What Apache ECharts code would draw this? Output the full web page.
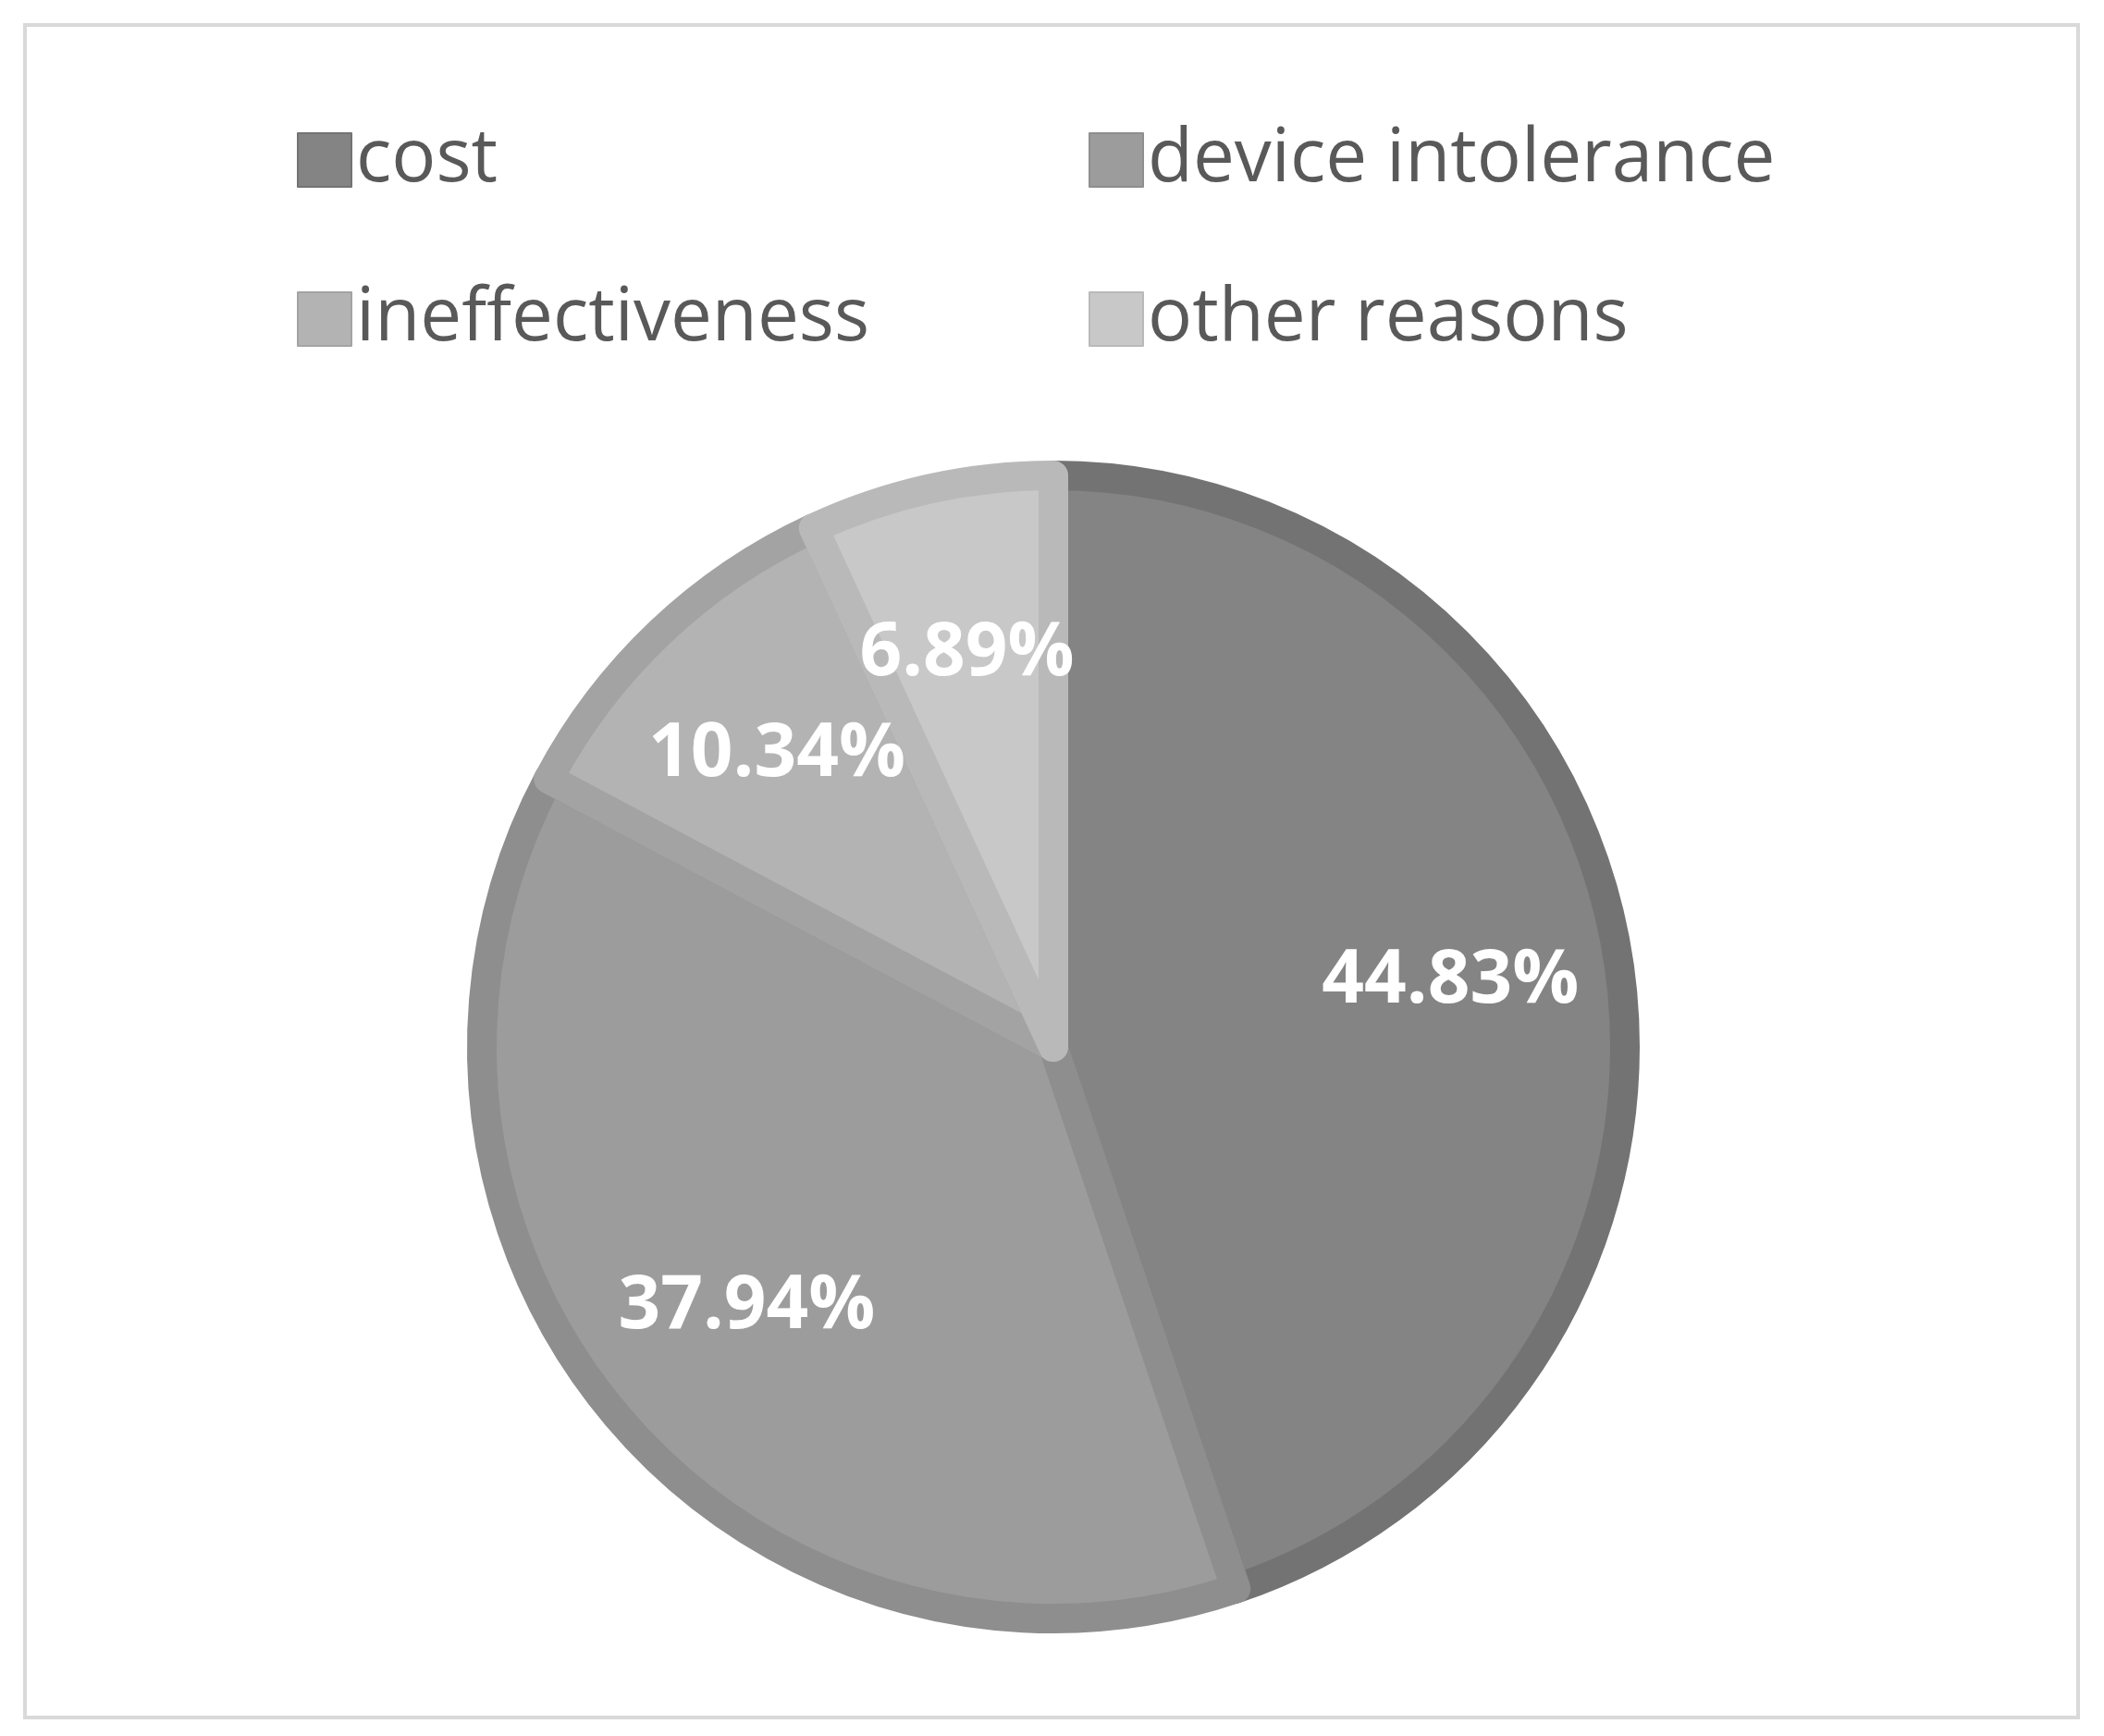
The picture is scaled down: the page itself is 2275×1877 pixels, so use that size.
<!DOCTYPE html>
<html><head><meta charset="utf-8">
<script src="https://cdn.jsdelivr.net/npm/echarts@6/dist/echarts.min.js"></script>
<style>html,body{margin:0;padding:0;background:#fff}#c{width:2275px;height:1877px}</style>
</head><body><div id="c"></div>
<script>
const categories = ['cost', 'device intolerance', 'ineffectiveness', 'other reasons'];
const values = [44.83, 37.94, 10.34, 6.89];
const fills = ['#848484', '#9c9c9c', '#b3b3b3', '#c8c8c8'];
const borders = ['#737373', '#8e8e8e', '#a3a3a3', '#b9b9b9'];
const legendColors = ['#757575', '#8b8b8b', '#a2a2a2', '#c0c0c0'];
const legendPos = [[316, 128], [1172, 128], [316, 300], [1172, 300]];

const chart = echarts.init(document.getElementById('c'));
const data = categories.map((n, i) => ({
  name: n, value: values[i],
  itemStyle: { color: fills[i], borderColor: borders[i], borderWidth: 32 }
}));
const labelData = categories.map((n, i) => ({ name: n, value: values[i] }));
chart.setOption({
  animation: false,
  color: legendColors,
  graphic: [{ type: 'rect', shape: { x: 27, y: 27, width: 2220, height: 1830 },
    style: { fill: 'none', stroke: '#d9d9d9', lineWidth: 4 } }],
  legend: categories.map((n, i) => ({
    data: [n], left: legendPos[i][0], top: legendPos[i][1],
    icon: 'rect', itemWidth: 58, itemHeight: 58, itemGap: 20,
    textStyle: { fontSize: 80, color: '#595959', fontFamily: 'Open Sans' },
    selectedMode: false
  })),
  series: [{
    type: 'pie', center: [1139, 1132], radius: [0, 618], startAngle: 90, clockwise: true,
    data: data, label: { show: false }, labelLine: { show: false }, silent: true
  }, {
    type: 'pie', center: [1139, 1132], radius: [230, 634], startAngle: 90, clockwise: true,
    data: labelData, itemStyle: { color: 'rgba(0,0,0,0)' }, silent: true,
    label: { show: true, position: 'inside', formatter: p => p.value.toFixed(2) + '%',
      color: '#fff', fontWeight: 'bold', fontSize: 80, fontFamily: 'Open Sans' }
  }]
});
</script></body></html>
